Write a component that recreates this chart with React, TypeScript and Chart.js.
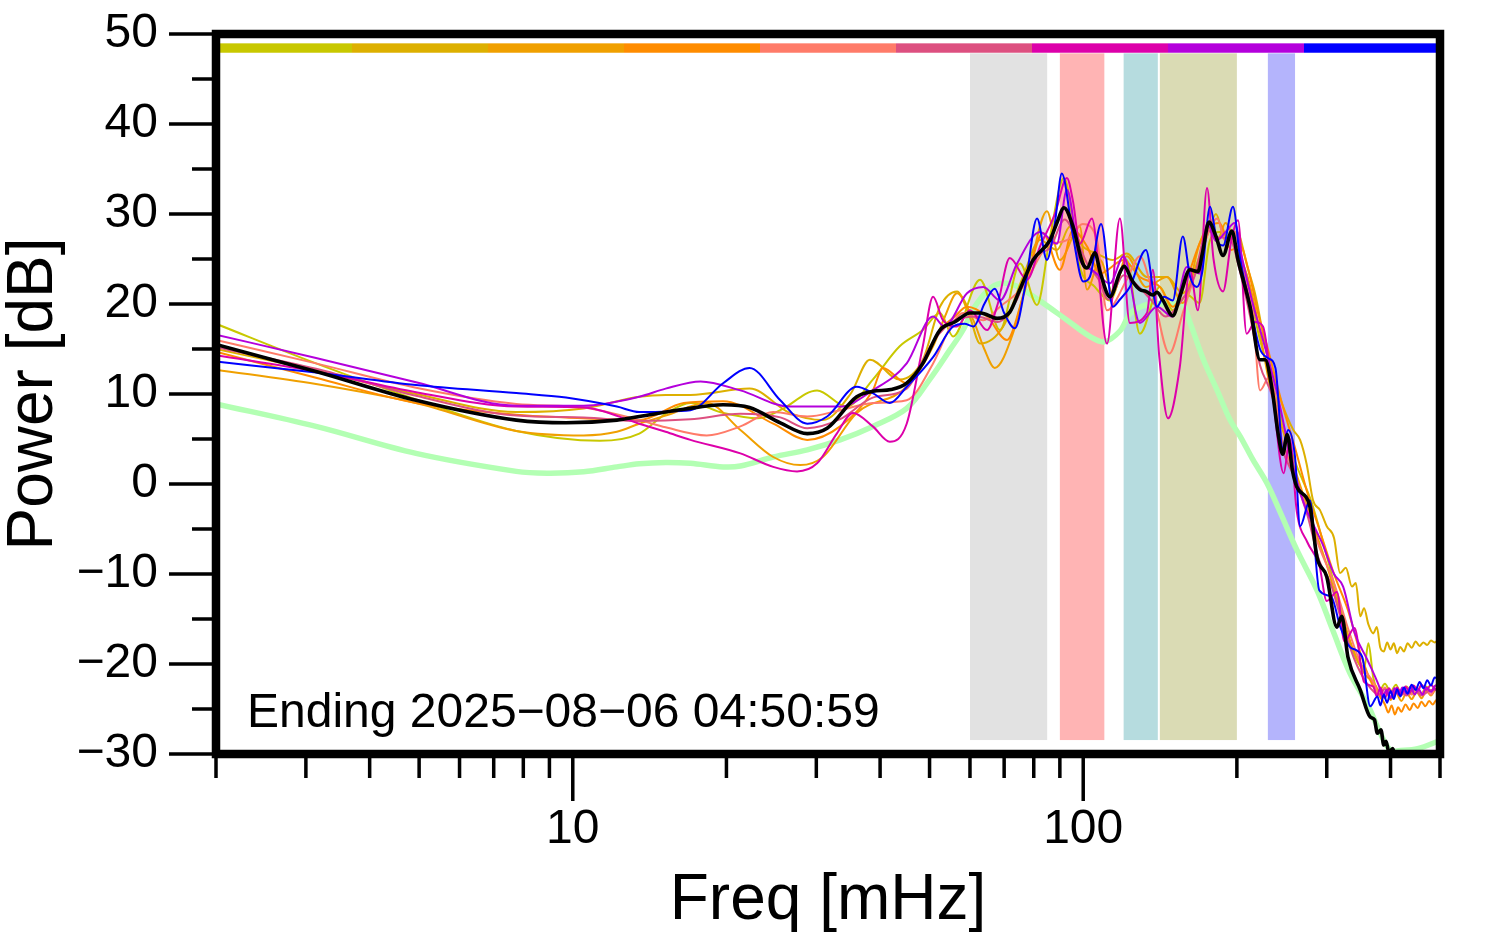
import React, { useEffect, useRef } from 'react';
import { Chart, registerables } from 'chart.js';

Chart.register(...registerables);

const FONT = "'Liberation Sans', Arial, Helvetica, sans-serif";

// Axes
const X_MIN = 2;
const X_MAX = 500;
const Y_MIN = -30;
const Y_MAX = 50;
const X_LABEL_TICKS = [10, 100];
const X_MINOR_TICKS = [2, 3, 4, 5, 6, 7, 8, 9, 20, 30, 40, 50, 60, 70, 80, 90, 200, 300, 400, 500];
const Y_LABEL_TICKS = [-30, -20, -10, 0, 10, 20, 30, 40, 50];
const Y_MINOR_TICKS = [-25, -15, -5, 5, 15, 25, 35, 45];

// Frequency bands (mHz)
const BAND_FROM = [60, 90, 120, 141.3, 230];
const BAND_TO = [85, 110, 140, 200, 260];
const BAND_COLORS = ['#e2e2e2', '#ffb4b4', '#b6dcdf', '#dadbb4', '#b4b4fc'];
const BAND_TOP = 47.85;
const BAND_BOTTOM = -28.45;

// Series colours (also the top colour strip)
const SERIES_COLORS = ['#c8c800', '#ddb000', '#f0a000', '#ff8c00', '#ff7b69', '#dd5080', '#dd00aa', '#b400dc', '#0000ff'];
const STRIP_LEVEL = 48.44;

const ANNOTATION = 'Ending 2025\u221208\u221206 04:50:59';

type Pt = [number, number];

const S_YELLOW: Pt[] = [[2, 17.8], [3.14, 13.4], [4.93, 9.4], [7.75, 5.9], [11.3, 4.8], [13.5, 5.6], [15.2, 7.8], [17, 9.0], [19.7, 7.9], [23, 7.3], [25.5, 8.2], [30.1, 10.4], [34.4, 8.6], [38.7, 11.6], [43.7, 15.3], [48.5, 17.1], [52.4, 19.0], [55.6, 16.4], [62.8, 22.7], [68.7, 17.1], [75.2, 24.5], [81.2, 19.9], [86.1, 27.5], [91.7, 34.0], [98.5, 24.1], [105.4, 21.9], [112.8, 20.4], [121.7, 24.9], [129.1, 16.7], [141.3, 21.9], [149.8, 19.3], [160, 21], [169, 20.1], [177, 27], [185, 28], [195, 27], [203, 25], [212, 21], [222, 16], [235, 11], [248, 6], [262, 2], [280, -2], [300, -8], [320, -14], [340, -19], [355, -20.5], [362, -17.7], [370, -21.5], [380, -23], [390, -22.2], [400, -23.1], [410, -22.3], [420, -23.4], [430, -22.5], [440, -23.3], [450, -22.6], [460, -23.3], [470, -22.5], [480, -23.0], [490, -22.4], [497, -22.8]];

const S_GOLD: Pt[] = [[2, 15.0], [3.14, 12.6], [4.93, 10.0], [7.75, 8.0], [10.5, 8.4], [13.5, 9.7], [15.2, 9.9], [17, 9.9], [22.2, 10.6], [26.6, 7.9], [30.9, 7.1], [35, 10], [38.2, 13.8], [43.7, 11.6], [48.5, 13.8], [52.4, 19.7], [56.6, 21.4], [60, 18.5], [62.8, 15.6], [69.7, 17.5], [76.2, 23.0], [82.3, 27.1], [88.8, 26.0], [94.2, 28.6], [99.8, 26.4], [106.4, 25.6], [114.3, 24.9], [121.7, 25.6], [133.3, 23.0], [145.9, 23.0], [156.7, 21.2], [169, 25.3], [176, 28], [182, 30], [190, 27], [200, 28], [210, 24], [217, 21.2], [230, 14], [245, 9], [258, 6], [266, 4.9], [274, 2.2], [282, -1.8], [291, -2.9], [300, -4.7], [310, -6], [318.6, -9.9], [327, -9.3], [336, -11.4], [342, -11.0], [349, -14.7], [355, -13.8], [362, -15.6], [370, -16.6], [376, -15.9], [382, -18.2], [388, -18.6], [394, -17.6], [400, -18.4], [406, -17.7], [412, -18.8], [418, -18.1], [425, -18.6], [432, -17.7], [440, -18.2], [448, -17.5], [456, -18.0], [464, -17.6], [472, -17.9], [480, -17.4], [488, -17.6], [497, -17.3]];

const S_ORANGE: Pt[] = [[2, 12.7], [3.14, 11.1], [4.93, 9.0], [7.75, 5.9], [10.5, 5.4], [12.2, 5.8], [13.5, 6.7], [15.2, 7.6], [18.3, 9.0], [21.3, 6.0], [24.7, 3.0], [27.9, 2.1], [30.9, 3.0], [36, 7.9], [45.1, 10.8], [50.8, 15.3], [53.5, 18.5], [56.6, 21.2], [60.9, 18.2], [64, 15], [67.1, 12.9], [72.8, 16.7], [78.7, 24.1], [84.9, 30.3], [90, 24.9], [98.5, 28.6], [101.7, 21.6], [107.9, 24.9], [114.3, 21.2], [121.7, 25.3], [132.7, 21.9], [145.9, 23.0], [156.7, 20.1], [169, 26.7], [176, 28.5], [183, 27], [190, 29], [200, 26], [210, 23], [220, 18], [232, 11], [246, 6], [262, 1], [280, -4], [300, -9], [318, -14], [336, -18], [355, -21], [375, -22.5], [384, -23.9], [392, -23.0], [400, -24.0], [410, -23.2], [420, -24.1], [430, -23.2], [440, -23.9], [450, -23.1], [460, -23.8], [470, -23.0], [480, -23.5], [490, -22.9], [497, -23.1]];

const S_DARKORANGE: Pt[] = [[2, 14.7], [3.14, 11.8], [4.93, 9.0], [7.75, 7.7], [9.7, 7.4], [13.5, 7.1], [16.5, 9.0], [19.7, 9.2], [24.7, 6.7], [28.8, 4.9], [33.4, 6.4], [38.7, 10.4], [40.5, 12.9], [45.1, 11.2], [52.4, 17.1], [56, 18.6], [59.2, 19.7], [64.8, 18.6], [70.9, 16.0], [76.2, 20.8], [83.4, 27.9], [90, 23.8], [95.5, 28.2], [101.7, 26.4], [107.9, 23.4], [120, 24.9], [129.1, 23.0], [141.3, 21.9], [149.8, 19.7], [160, 23], [169, 26.7], [176, 28.5], [185, 29], [195, 26], [203, 26.5], [210, 24.1], [220, 19], [230, 15], [245, 9], [260, 4], [275, -1], [290, -5], [310, -10], [330, -14], [350, -19], [370, -22.5], [380, -23.4], [390, -24.5], [396, -25.4], [402, -24.6], [408, -25.6], [414, -24.8], [420, -25.3], [428, -24.5], [436, -25.1], [444, -24.4], [452, -24.9], [460, -24.2], [468, -24.7], [476, -24.1], [484, -24.5], [492, -24.0], [497, -24.2]];

const S_SALMON: Pt[] = [[2, 16.0], [3.14, 13.4], [4.93, 10.7], [7.75, 8.9], [10.5, 8.5], [13.5, 7.1], [15.2, 6.3], [18.3, 5.4], [21.3, 6.4], [24.7, 8.0], [28.8, 7.5], [33.4, 8.2], [38.7, 9.0], [45.1, 9.3], [50.8, 13.4], [55, 17.5], [58.2, 19.0], [63.7, 18.2], [68.7, 19.7], [76.2, 21.9], [84.9, 26.4], [92.9, 27.1], [99.8, 28.9], [106.4, 27.1], [111.3, 19.3], [121.7, 22.7], [129.1, 25.3], [136.9, 21.2], [147.5, 14.5], [156.7, 19.0], [169, 24.9], [176, 28], [183, 29.5], [190, 27], [198, 28], [205, 24], [215, 19], [222, 10.4], [232, 12], [245, 5], [260, 1], [275, -3], [290, -7], [310, -11], [330, -16], [350, -20], [370, -22], [380, -23.4], [390, -22.6], [400, -23.6], [410, -22.7], [420, -23.5], [430, -22.6], [440, -23.4], [450, -22.7], [460, -23.3], [470, -22.8], [480, -23.4], [490, -22.7], [497, -23]];

const S_ROSE: Pt[] = [[2, 15.2], [3.14, 12.8], [4.93, 9.8], [7.75, 7.6], [10.5, 7.4], [13.5, 7.0], [17, 7.2], [21.3, 7.8], [25.5, 7.4], [28.8, 6.2], [33.4, 7.2], [38.7, 9.6], [45.1, 10.6], [50.8, 15.8], [56, 18.2], [62, 18.6], [68, 18.0], [74, 20.4], [80, 25.2], [86, 26.2], [92, 29.4], [97, 27.2], [102, 24.4], [107, 22.8], [112, 20.5], [120, 23.2], [128, 22.0], [136, 20.4], [145, 18.6], [155, 20.2], [165, 23.0], [175, 28.2], [184, 27.4], [194, 27.2], [202, 24.0], [212, 18.8], [222, 13.2], [235, 9.6], [246, 3.8], [258, 1.0], [275, -3.5], [290, -8.5], [305, -11], [320, -15], [340, -19.5], [360, -22.2], [380, -23.4], [390, -22.8], [400, -23.7], [415, -22.9], [430, -23.5], [445, -22.8], [460, -23.5], [480, -22.9], [497, -22.9]];

const S_MAGENTA: Pt[] = [[2, 14.3], [3.14, 12.5], [4.93, 10.2], [7.75, 8.6], [10.5, 8.5], [13.5, 6.7], [15.2, 5.8], [17, 4.9], [21.3, 3.4], [24.7, 1.9], [27.5, 1.4], [30.1, 2.3], [32.9, 5.6], [35.4, 7.9], [38.7, 6.4], [41.8, 4.7], [45.1, 6.7], [48.5, 15.3], [50.8, 20.8], [53.1, 18.2], [56.6, 17.5], [60, 19.3], [64.8, 17.1], [68, 20], [71.8, 25.1], [77.6, 22.7], [82.3, 26.4], [88, 30], [92.9, 34.0], [95.5, 31.4], [98.5, 26.7], [104, 29.5], [111.3, 15.6], [118, 29.5], [123.4, 17.9], [133.3, 19.0], [136.9, 23.8], [141, 14], [146.6, 7.3], [154.6, 13.0], [161.8, 23.8], [167.8, 19.3], [174.8, 32.9], [180, 25], [187.9, 21.4], [195, 27], [201, 29.3], [209, 16.7], [217, 18], [225, 17.5], [235, 10], [247, 1.2], [254, 5], [262, -3], [275, -6.5], [290, -9], [300, -13], [314, -12], [325, -17.5], [340, -16], [355, -22], [370, -22.5], [376, -23.6], [382, -22.6], [390, -23.8], [397, -22.7], [405, -23.5], [412, -22.6], [420, -23.4], [428, -22.5], [436, -23.2], [444, -22.4], [452, -23.0], [460, -22.3], [470, -22.9], [480, -22.3], [490, -22.8], [497, -22.5]];

const S_PURPLE: Pt[] = [[2, 16.6], [3.14, 14.0], [4.93, 11.3], [7.75, 8.7], [10.5, 8.7], [13.5, 9.7], [15.2, 10.6], [17.8, 11.4], [21.3, 10.4], [26.6, 8.6], [33.4, 8.6], [38.7, 10.4], [45.1, 13.4], [50.8, 18.6], [53.5, 17.5], [59.2, 21.2], [63.7, 21.9], [68.7, 20.4], [74.2, 24.5], [82.3, 28.0], [88.8, 26.7], [92.9, 32.7], [98.5, 24.9], [104, 23.8], [112.8, 22.3], [120, 25.3], [129.1, 17.9], [139.4, 19.7], [149.8, 18.6], [159.6, 24.1], [169, 23.4], [175, 29], [182, 27], [190, 28], [198, 29], [205, 25], [215, 20], [225, 16], [240, 10], [255, 3], [270, -2], [285, -5], [294, -6.6], [310, -10], [323, -11.4], [340, -16.5], [360, -19.5], [380, -22.5], [386, -23.7], [393, -22.9], [400, -23.8], [407, -22.7], [415, -23.4], [422, -22.6], [430, -23.3], [438, -22.5], [446, -23.4], [454, -22.8], [462, -23.4], [470, -22.6], [480, -23.1], [490, -22.4], [497, -22.6]];

const S_BLUE: Pt[] = [[2, 13.6], [3.14, 12.4], [4.93, 11.0], [7.75, 10.1], [9.7, 9.6], [12.2, 8.6], [13.5, 8.0], [17, 8.2], [19.7, 11.2], [22.2, 12.9], [25.5, 9.3], [28.8, 6.7], [31.5, 7.5], [36, 10.8], [38.7, 10.1], [41.8, 9.0], [45.1, 10.8], [50.8, 14.1], [55.6, 17.5], [58.5, 17.8], [61, 17.5], [64, 20], [67.1, 21.7], [70, 19], [73.5, 17.3], [77, 22], [81.2, 29.5], [84.9, 24.9], [88, 29], [90.8, 34.5], [95.5, 27.5], [100, 22.5], [103, 23.0], [108.4, 28.9], [114.3, 19.7], [118, 20.5], [123.4, 21.9], [132.7, 26.0], [139.4, 19.7], [144, 20.8], [149.8, 20.4], [156.7, 27.5], [162, 23], [167, 21.9], [171, 23.5], [177.2, 30.8], [183, 27], [188, 26.5], [196.5, 30.8], [203, 25], [212, 20], [222, 15], [230, 14], [238, 12.9], [246, 4], [252, 6], [260, 3.0], [266, -4.7], [278, -1.8], [290, -11.8], [306, -12.5], [319, -15.9], [333, -18.1], [352, -19.2], [365, -24.7], [377, -23.6], [382, -24.6], [388, -23.4], [394, -24.3], [400, -23.0], [406, -23.9], [412, -22.8], [418, -23.6], [425, -22.6], [432, -23.3], [440, -22.3], [448, -22.9], [456, -22.0], [464, -22.7], [472, -21.8], [480, -22.4], [488, -21.5], [497, -21.6]];

const S_MEAN: Pt[] = [[2, 15.5], [3.14, 12.5], [4.93, 9.3], [7.75, 7.1], [9.7, 6.8], [12.2, 7.1], [13.5, 7.5], [16.5, 8.3], [19.7, 8.8], [22.2, 8.5], [25.5, 6.8], [28.8, 5.6], [31.5, 6.2], [36, 9.7], [38.7, 10.3], [42, 10.5], [45.1, 11.2], [48.5, 13.4], [52.4, 17.1], [56, 18.0], [60, 19.0], [63, 19.0], [67.8, 18.4], [71.8, 19.1], [75, 21.5], [79.8, 24.9], [86.1, 27.1], [88.8, 29.0], [91.7, 30.7], [95.5, 28.6], [99.8, 24.5], [101.7, 24.0], [105.4, 25.7], [108, 23.5], [112.8, 20.8], [118, 23.5], [120.2, 24.2], [125, 22.5], [129.1, 21.6], [132.7, 21.4], [136.9, 21.0], [139.4, 21.3], [143, 20.5], [149.8, 18.7], [155, 21.0], [161.8, 23.8], [167.8, 23.6], [171, 25.5], [176.4, 29.1], [182, 27.5], [187.9, 25.4], [195.6, 28.1], [201, 24.9], [212.2, 19.7], [222, 13.8], [227.2, 13.8], [234.6, 10.4], [241, 5.5], [246, 3.3], [251, 5.5], [257, 1.5], [262, -0.3], [278, -2.5], [287, -8.1], [300, -10.3], [314, -15.9], [321, -14.7], [330, -19.2], [349, -22.9], [365, -25.9], [372, -26.2], [377, -27.7], [383, -27.3], [388, -29.0], [392, -28.6], [397, -29.8], [404, -29.4], [410, -30.6], [430, -31], [460, -31.5], [500, -31.5]];

const S_BASELINE: Pt[] = [[2, 8.9], [3.14, 6.4], [4.93, 3.4], [7.75, 1.4], [8.9, 1.2], [10.5, 1.35], [12.2, 1.9], [13.5, 2.25], [15.2, 2.4], [17, 2.3], [19.7, 1.9], [21.3, 2.0], [24.7, 3.0], [28.8, 3.8], [33.4, 4.9], [38.7, 6.4], [45.1, 8.4], [50, 11.6], [54.8, 14.9], [58, 17.0], [61, 19.5], [65, 21.5], [69, 22.3], [74, 22.0], [82, 20.4], [93, 18.2], [103, 16.4], [110, 15.8], [118, 17.0], [124, 19.0], [135, 20.0], [150, 20.0], [156, 20.1], [162, 17.9], [172, 13.8], [183, 10.4], [194, 7.1], [203, 5.3], [215, 2.7], [229, 0.1], [243, -3.1], [262, -7.3], [287, -11.8], [308, -16.2], [333, -21.0], [362, -24.7], [382, -27.7], [400, -29.6], [418, -29.6], [452, -29.4], [500, -28.5]];

const COLOR_SERIES: Pt[][] = [S_YELLOW, S_GOLD, S_ORANGE, S_DARKORANGE, S_SALMON, S_ROSE, S_MAGENTA, S_PURPLE, S_BLUE];
const MEAN_COLOR = '#000000';
const BASELINE_COLOR = '#b3ffb3';

const toXY = (pts: Pt[]) => pts.map(([f, v]) => ({ x: f, y: v }));

const decorPlugin = {
  id: 'decor',
  beforeDatasetsDraw(chart: any) {
    const { ctx, scales } = chart;
    const x = scales.x;
    const y = scales.y;
    ctx.save();
    const yTop = y.getPixelForValue(BAND_TOP);
    const yBot = y.getPixelForValue(BAND_BOTTOM);
    BAND_FROM.forEach((f, i) => {
      const x0 = x.getPixelForValue(f);
      const x1 = x.getPixelForValue(BAND_TO[i]);
      ctx.fillStyle = BAND_COLORS[i];
      ctx.fillRect(x0, yTop, x1 - x0, yBot - yTop);
    });
    ctx.restore();
  },
  afterDatasetsDraw(chart: any) {
    const { ctx, chartArea, scales } = chart;
    const x = scales.x;
    const y = scales.y;
    const { left, right, top, bottom } = chartArea;
    ctx.save();
    // colour strip
    const segW = (right - left) / SERIES_COLORS.length;
    const yc = y.getPixelForValue(STRIP_LEVEL);
    SERIES_COLORS.forEach((c, i) => {
      ctx.fillStyle = c;
      ctx.fillRect(left + i * segW, yc - 4.7, segW, 9.4);
    });
    // frame
    ctx.strokeStyle = '#000';
    ctx.lineWidth = 8.5;
    ctx.strokeRect(left, top, right - left, bottom - top);
    // ticks
    ctx.lineWidth = 3.5;
    ctx.beginPath();
    Y_LABEL_TICKS.forEach((v) => {
      const py = y.getPixelForValue(v);
      ctx.moveTo(left - 47, py);
      ctx.lineTo(left, py);
    });
    Y_MINOR_TICKS.forEach((v) => {
      const py = y.getPixelForValue(v);
      ctx.moveTo(left - 24, py);
      ctx.lineTo(left, py);
    });
    X_LABEL_TICKS.forEach((v) => {
      const px = x.getPixelForValue(v);
      ctx.moveTo(px, bottom);
      ctx.lineTo(px, bottom + 47);
    });
    X_MINOR_TICKS.forEach((v) => {
      const px = x.getPixelForValue(v);
      ctx.moveTo(px, bottom);
      ctx.lineTo(px, bottom + 24);
    });
    ctx.stroke();
    // annotation
    ctx.fillStyle = '#000';
    ctx.font = `48px ${FONT}`;
    ctx.textBaseline = 'alphabetic';
    ctx.textAlign = 'left';
    ctx.fillText(ANNOTATION, left + 31, bottom - 27);
    ctx.restore();
  },
};

export default function App() {
  const ref = useRef<HTMLCanvasElement | null>(null);

  useEffect(() => {
    if (!ref.current) return;
    const datasets: any[] = COLOR_SERIES.map((s, i) => ({
      data: toXY(s),
      borderColor: SERIES_COLORS[i],
      borderWidth: 2,
      pointRadius: 0,
      cubicInterpolationMode: 'monotone',
      order: 10 - i,
    }));
    datasets.push({
      data: toXY(S_MEAN),
      borderColor: MEAN_COLOR,
      borderWidth: 3.6,
      pointRadius: 0,
      cubicInterpolationMode: 'monotone',
      order: 0,
    });
    datasets.push({
      data: toXY(S_BASELINE),
      borderColor: BASELINE_COLOR,
      borderWidth: 5.5,
      pointRadius: 0,
      tension: 0.35,
      order: 50,
    });

    const chart = new Chart(ref.current, {
      type: 'line',
      data: { datasets },
      plugins: [decorPlugin],
      options: {
        responsive: false,
        animation: false,
        events: [],
        layout: { padding: { top: 34, right: 54, left: 0, bottom: 0 } },
        plugins: { legend: { display: false }, tooltip: { enabled: false } },
        scales: {
          x: {
            type: 'logarithmic',
            min: X_MIN,
            max: X_MAX,
            afterBuildTicks: (s: any) => {
              s.ticks = X_LABEL_TICKS.map((v) => ({ value: v }));
            },
            afterFit: (s: any) => {
              s.height = 198;
            },
            grid: { display: false, drawTicks: false },
            border: { display: false },
            ticks: {
              autoSkip: false,
              maxRotation: 0,
              padding: 52,
              color: '#000',
              font: { family: FONT, size: 48, lineHeight: 1 },
              callback: (v: any) => String(v),
            },
            title: {
              display: true,
              text: 'Freq [mHz]',
              color: '#000',
              font: { family: FONT, size: 64, lineHeight: 1 },
              padding: { top: 0, bottom: 19 },
            },
          },
          y: {
            type: 'linear',
            min: Y_MIN,
            max: Y_MAX,
            afterBuildTicks: (s: any) => {
              s.ticks = Y_LABEL_TICKS.map((v) => ({ value: v }));
            },
            afterFit: (s: any) => {
              s.width = 216;
            },
            grid: {
              display: true,
              drawOnChartArea: false,
              drawTicks: true,
              tickLength: 48,
              tickColor: 'rgba(0,0,0,0)',
              color: 'rgba(0,0,0,0)',
            },
            border: { display: false },
            ticks: {
              autoSkip: false,
              padding: 10,
              color: '#000',
              font: { family: FONT, size: 48, lineHeight: 1 },
              callback: (v: any) => (Number(v) < 0 ? '\u2212' + Math.abs(Number(v)) : String(v)),
            },
            title: {
              display: true,
              text: 'Power [dB]',
              color: '#000',
              font: { family: FONT, size: 64, lineHeight: 1 },
              padding: { top: 2, bottom: 0 },
            },
          },
        },
      } as any,
    });
    return () => chart.destroy();
  }, []);

  return (
    <div style={{ position: 'absolute', left: 0, top: 0, width: 1494, height: 952, background: '#fff' }}>
      <canvas ref={ref} width={1494} height={952} style={{ display: 'block' }} />
    </div>
  );
}
